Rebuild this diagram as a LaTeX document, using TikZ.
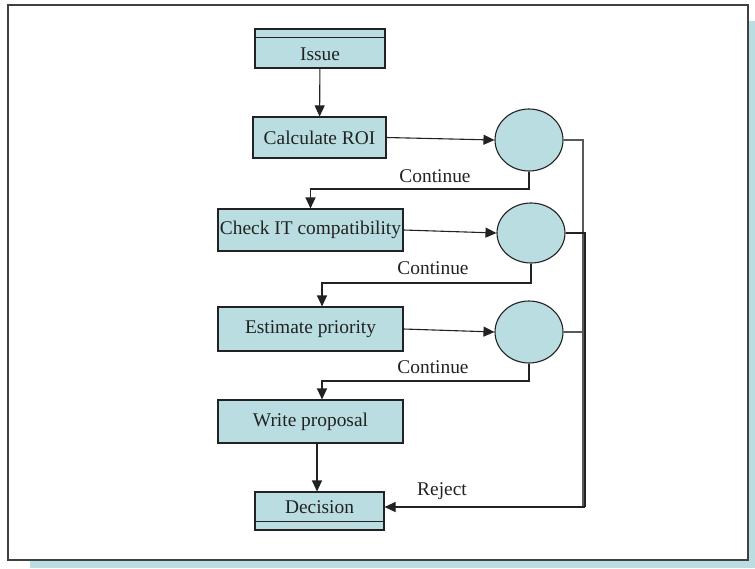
\documentclass[tikz,border=0pt]{standalone}
\usepackage{fontspec}
\setmainfont{Liberation Serif}
\usetikzlibrary{arrows.meta,shapes.geometric}
\definecolor{tealfill}{HTML}{B9DDE0}
\definecolor{inkc}{HTML}{222222}
\tikzset{
  boxnode/.style={draw=inkc,line width=1.1pt,fill=tealfill,rectangle,inner sep=0pt,text=inkc,
    font=\fontsize{19.4}{22}\selectfont},
  circnode/.style={draw=inkc,line width=1.1pt,fill=tealfill,ellipse,inner sep=0pt,
    minimum width=68pt,minimum height=62pt},
  lbl/.style={text=inkc,font=\fontsize{19.4}{22}\selectfont,inner sep=0pt},
  conn/.style={draw=inkc,line width=1.1pt},
  arr/.style={conn,-{Triangle[length=11pt,width=10pt]}},
  rline/.style={draw=black!65,line width=1.1pt}
}
\begin{document}
\begin{tikzpicture}[x=1pt,y=-1pt]
\useasboundingbox (0,0) rectangle (755,568);
% frame with shadow
\fill[tealfill] (30,21) rectangle (755,568);
\draw[draw=black!75,line width=1.4pt,fill=white] (8,5) rectangle (748,560);

% nodes
\node[boxnode,minimum width=130pt,minimum height=39pt] (issue) at (320,48.5) {};
\draw[conn] ([yshift=-9pt]issue.north west) -- ([yshift=-9pt]issue.north east);
\node[lbl] (issuet) at (320,54) {Issue};

\node[boxnode,minimum width=133pt,minimum height=41pt] (calc) at (319.5,137.5) {Calculate ROI};
\node[boxnode,minimum width=185pt,minimum height=42pt] (check) at (310.5,230) {Check IT compatibility};
\node[boxnode,minimum width=185pt,minimum height=44pt] (est) at (310.5,329) {Estimate priority};
\node[boxnode,minimum width=185pt,minimum height=43pt] (write) at (310.5,421.5) {Write proposal};

\node[boxnode,minimum width=129pt,minimum height=38pt] (dec) at (319.5,511) {};
\draw[conn] ([yshift=9pt]dec.south west) -- ([yshift=9pt]dec.south east);
\node[lbl] (dect) at (319.5,507) {Decision};

\node[circnode] (c1) at (529,140) {};
\node[circnode,minimum height=60pt] (c2) at (531,233) {};
\node[circnode] (c3) at (529,332) {};

% labels
\node[lbl] (l1) at (435,176) {Continue};
\node[lbl] (l2) at (433,268) {Continue};
\node[lbl] (l3) at (433,367) {Continue};
\node[lbl] (l4) at (442,491) {Reject};

% helper coordinates
\coordinate (y1) at (0,189);
\coordinate (y2) at (0,283);
\coordinate (y3) at (0,381);
\coordinate (xa) at (322,0);
\coordinate (xw) at (317,0);
\coordinate (xr1) at (583,0);
\coordinate (xr2) at (585,0);
\coordinate (yr) at (0,507);

% connectors
\draw[arr] (issue) -- (calc);
\draw[arr] (calc.east) -- (c1.west);
\draw[arr] (check.east) -- (c2.west);
\draw[arr] (est.east) -- (c3.west);

\draw[arr] (c1.south) -- (c1.south |- y1) -| (check.north);
\draw[arr] (c2.south) -- (c2.south |- y2) -| (est.north -| xa);
\draw[arr] (c3.south) -- (c3.south |- y3) -| (write.north -| xa);
\draw[arr] (write.south -| xw) -- (dec.north -| xw);

\draw[rline] (c1.east) -- (c1.east -| xr1) -- (xr1 |- yr);
\draw[rline] (c3.east) -- (c3.east -| xr1);
\draw[conn] (c2.east) -- (c2.east -| xr2) -- (xr2 |- yr);
\draw[arr] (xr2 |- yr) -- (dec.east |- yr);
\end{tikzpicture}
\end{document}
